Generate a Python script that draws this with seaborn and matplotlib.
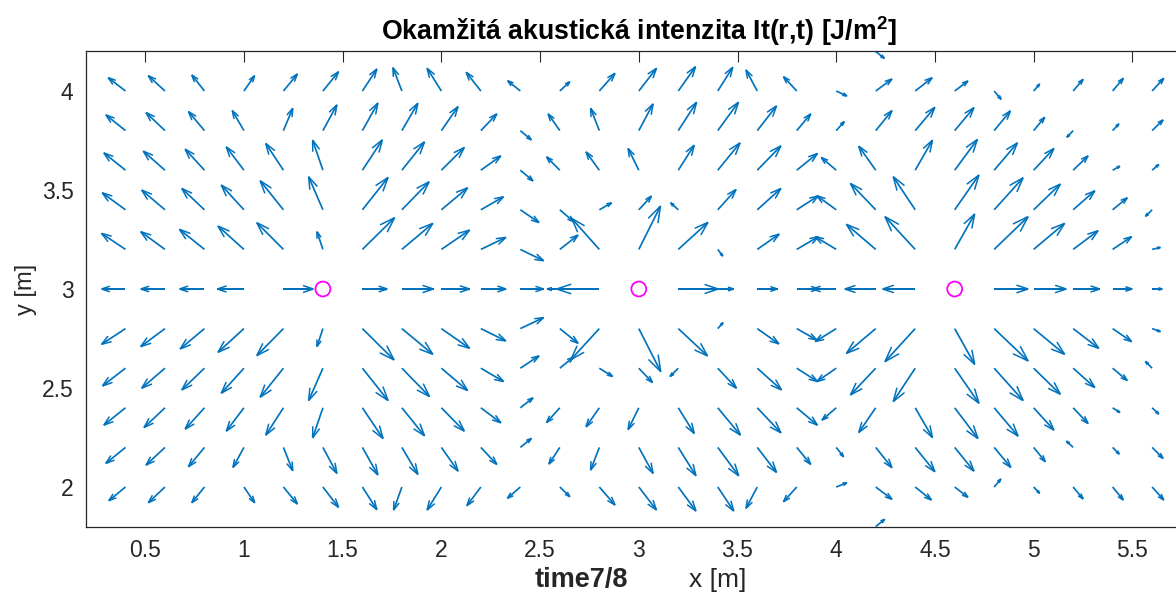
import numpy as np
import matplotlib
matplotlib.use("Agg")
import matplotlib.pyplot as plt
from matplotlib.collections import LineCollection
import seaborn as sns

# ---------------- data ----------------
# grid of arrow tails
x_pos = [0.4, 0.6, 0.8, 1.0, 1.2, 1.4, 1.6, 1.8, 2.0, 2.2, 2.4, 2.6, 2.8, 3.0,
         3.2, 3.4, 3.6, 3.8, 4.0, 4.2, 4.4, 4.6, 4.8, 5.0, 5.2, 5.4, 5.6]
y_rows = [4.0, 3.8, 3.6, 3.4, 3.2, 3.0, 2.8, 2.6, 2.4, 2.2, 2.0]

# intensity components per row (arbitrary units)
u_y40 = [-17.3, -16.7, -12.7, 10.7, 14.0, 15.7, 14.5, -9.0, -14.3, -14.7, -12.7, 10.0, 15.7, 17.7,
         17.3, 15.0, -11.3, -13.3, 10.7, 16.3, 17.0, 13.3, 7.0, 6.0, 10.0, 10.7, 11.7]
v_y40 = [13.3, 15.3, 16.0, 15.3, 17.0, 19.3, 22.0, 23.3, 22.7, 18.7, 10.3, 9.3, 17.7, 22.7,
         24.3, 23.7, 21.0, 14.3, -5.0, 12.0, 13.3, 10.0, -8.3, 7.0, 11.7, 12.7, 12.7]
u_y38 = [-19.7, -19.0, -16.0, -11.7, 9.3, 14.0, 15.5, 16.0, 16.7, 16.0, 11.0, -11.7, -8.7, 14.3,
         18.3, 20.7, 19.3, 14.0, 8.0, 16.3, 19.7, 19.3, 16.3, 11.0, -6.3, 6.3, 11.0]
v_y38 = [15.7, 18.0, 19.0, 20.0, 22.3, 25.7, 27.5, 27.3, 24.0, 16.7, -9.3, 16.7, 22.3, 26.7,
         28.3, 28.3, 24.7, 16.7, 9.0, 20.0, 23.3, 23.0, 19.7, 13.3, -6.7, 6.7, 10.7]
u_y36 = [-21.7, -21.7, -19.3, -17.7, -17.7, -10.3, 20.0, 22.7, 23.0, 20.0, 12.7, -13.3, -13.3, -10.7,
         16.0, 22.3, 23.7, 20.7, -15.0, -17.0, 17.3, 22.7, 23.3, 20.3, 15.0, 7.3, 6.7]
v_y36 = [17.3, 19.0, 21.0, 23.3, 26.7, 30.0, 30.3, 28.3, 22.7, 14.3, -10.7, 13.3, 18.3, 21.7,
         25.0, 27.3, 24.3, 16.7, 12.7, 24.0, 30.0, 30.7, 27.3, 21.7, 14.3, 4.0, 5.7]
u_y34 = [-23.3, -23.3, -22.7, -22.7, -23.3, -14.3, 25.7, 27.3, 26.3, 22.7, 18.7, 14.0, 12.3, 12.7,
         -7.7, 18.3, 23.7, 21.7, -19.3, -25.3, -22.0, 24.3, 29.0, 26.7, 21.7, 14.7, -6.7]
v_y34 = [17.0, 19.7, 21.3, 24.7, 29.0, 33.0, 32.3, 28.0, 22.0, 13.0, -12.7, -12.0, 7.0, 13.7,
         7.0, 20.3, 21.3, 14.0, 14.0, 26.3, 33.0, 34.7, 32.0, 25.7, 19.0, 12.0, -6.5]
u_y32 = [-24.0, -24.3, -25.0, -26.0, -26.7, -6.0, 32.3, 31.0, 28.3, 25.0, 23.3, 18.3, -27.7, 21.7,
         29.7, 5.0, 22.0, 21.7, -21.0, -29.3, -30.3, 20.0, 34.0, 31.0, 25.0, 19.0, 8.3]
v_y32 = [16.0, 17.7, 20.0, 23.3, 26.7, 17.7, 31.7, 26.0, 19.3, 12.0, -11.3, 14.3, 31.0, 43.3,
         27.0, -6.7, 15.3, 12.7, 12.7, 25.0, 32.7, 35.3, 32.7, 26.0, 18.7, 12.7, 2.0]
u_y30 = [-24.0, -24.3, -25.0, -26.7, 30.0, 0.0, 25.0, 31.7, 28.3, 25.3, 23.3, -12.7, -42.7, 0.0,
         40.0, 16.0, 20.3, 22.0, -24.0, -31.0, -32.7, 0.0, 34.0, 32.7, 26.7, 19.7, 10.3]
v_y30 = [0.0] * 27
u_y28 = [-24.0, -24.3, -24.3, -26.0, -26.7, -6.0, 31.7, 31.0, 28.3, 25.0, 23.3, 18.3, -28.5, 22.0,
         29.3, 5.3, 21.7, 20.0, -21.0, -29.3, -30.3, 20.0, 34.0, 31.0, 25.7, 19.0, 8.3]
v_y28 = [-15.7, -18.0, -20.3, -23.7, -27.0, -18.0, -31.3, -25.7, -19.7, -12.3, 11.0, -14.7, -31.0, -43.0,
         -27.3, 6.0, -15.3, -11.3, -13.0, -24.7, -33.0, -35.7, -32.3, -25.7, -19.7, -13.0, -3.0]
u_y26 = [-23.0, -23.3, -22.7, -22.7, -23.3, -14.3, 25.7, 27.7, 26.3, 22.7, 18.7, 13.5, 13.3, 13.7,
         -8.3, 18.7, 24.3, 20.7, -19.3, -25.3, -22.0, 24.3, 29.0, 26.7, 21.7, 14.7, -6.7]
v_y26 = [-17.7, -20.0, -21.7, -25.0, -29.0, -32.3, -32.3, -28.3, -22.3, -13.3, 12.3, 11.0, -8.3, -14.3,
         -8.3, -20.0, -21.7, -13.3, -13.3, -26.7, -33.3, -35.0, -32.3, -26.0, -19.3, -12.3, 6.7]
u_y24 = [-21.7, -21.0, -19.3, -17.7, -17.7, -10.3, 20.7, 22.7, 23.0, 20.0, 12.7, -13.3, -13.3, -10.7,
         16.0, 22.7, 23.7, 20.7, -14.3, -17.0, 17.3, 23.3, 24.0, 20.3, 15.0, 7.3, 6.7]
v_y24 = [-17.3, -19.7, -21.3, -23.3, -27.3, -30.0, -30.7, -28.0, -23.3, -15.0, 10.0, -14.7, -19.0, -21.7,
         -25.7, -27.3, -25.0, -17.3, -12.3, -24.7, -29.7, -30.7, -28.3, -22.3, -15.7, -4.7, -6.3]
u_y22 = [-19.7, -19.0, -16.0, -11.0, 9.3, 14.0, 15.5, 16.0, 16.7, 16.0, 11.0, -11.0, -8.7, 14.3,
         17.7, 21.0, 19.3, 14.0, 7.3, 16.3, 19.7, 19.3, 16.7, 11.7, -6.7, 6.7, 11.0]
v_y22 = [-16.0, -17.7, -19.3, -20.0, -23.3, -26.0, -27.5, -27.0, -23.7, -17.0, 9.0, -16.7, -22.7, -26.0,
         -28.3, -28.3, -25.0, -17.0, -9.3, -20.3, -24.3, -23.7, -20.0, -14.3, 6.3, -6.7, -11.0]
u_y20 = [-16.7, -16.7, -12.7, 10.7, 14.0, 15.7, 14.5, -8.3, -14.3, -14.0, -13.0, 10.0, 15.7, 17.7,
         17.7, 16.0, -11.3, -13.3, 10.7, 16.3, 16.3, 13.3, 6.7, 6.0, 10.0, 10.7, 11.7]
v_y20 = [-13.7, -15.7, -15.7, -15.7, -17.0, -20.3, -22.7, -23.0, -23.0, -18.7, -11.3, -9.7, -18.0, -23.0,
         -24.0, -24.0, -21.3, -14.7, 4.3, -12.3, -13.0, -10.3, 8.0, -6.3, -12.0, -13.0, -13.0]

# arrows on the border rows that remain visible
edge_x = [4.2, 4.2]
edge_y = [4.2, 1.8]
edge_u = [8.7, 9.0]
edge_v = [-7.0, 7.3]

# sources
src_x = [1.4, 3.0, 4.6]
src_y = [3.0, 3.0, 3.0]

xtick_vals = [0.5, 1, 1.5, 2, 2.5, 3, 3.5, 4, 4.5, 5, 5.5]
xtick_labels = ["0.5", "1", "1.5", "2", "2.5", "3", "3.5", "4", "4.5", "5", "5.5"]
ytick_vals = [2, 2.5, 3, 3.5, 4]
ytick_labels = ["2", "2.5", "3", "3.5", "4"]

# ---------------- style ----------------
sns.set_theme(style="white")
plt.rcParams["font.family"] = ["Liberation Sans", "DejaVu Sans"]
plt.rcParams["mathtext.fontset"] = "custom"
plt.rcParams["mathtext.rm"] = "Liberation Sans"
plt.rcParams["mathtext.bf"] = "Liberation Sans:bold"

BLUE = "#0072BD"
AX_COL = "#262626"

U = np.array([u_y40, u_y38, u_y36, u_y34, u_y32, u_y30, u_y28, u_y26, u_y24, u_y22, u_y20], float)
V = np.array([v_y40, v_y38, v_y36, v_y34, v_y32, v_y30, v_y28, v_y26, v_y24, v_y22, v_y20], float)
X, Y = np.meshgrid(np.array(x_pos), np.array(y_rows))

Xf = np.concatenate([X.ravel(), edge_x])
Yf = np.concatenate([Y.ravel(), edge_y])
Uf = np.concatenate([U.ravel(), edge_u])
Vf = np.concatenate([V.ravel(), edge_v])
keep = ~((Uf == 0) & (Vf == 0))
Xf, Yf, Uf, Vf = Xf[keep], Yf[keep], Uf[keep], Vf[keep]

W, H = 1176, 603
fig = plt.figure(figsize=(W / 100, H / 100), dpi=100)
ax = fig.add_axes([86 / W, 76.4 / H, 1105.6 / W, 475.2 / H])
ax.set_xlim(0.2, 5.8)
ax.set_ylim(1.8, 4.2)

SCALE = 197.8  # intensity units per metre of arrow length
ax.quiver(Xf, Yf, Uf, Vf, angles="xy", scale_units="xy", scale=SCALE, pivot="tail",
          color=BLUE, units="dots", width=1.7, headwidth=1, headlength=0,
          headaxislength=0, minlength=0, zorder=2)

# open "V" arrow heads in MATLAB style
ud, vd = Uf / SCALE, Vf / SCALE
tx, ty = Xf + ud, Yf + vd
alpha, beta = 0.33, 0.33
h1 = np.stack([tx - alpha * (ud + beta * vd), ty - alpha * (vd - beta * ud)], axis=-1)
h2 = np.stack([tx - alpha * (ud - beta * vd), ty - alpha * (vd + beta * ud)], axis=-1)
tip = np.stack([tx, ty], axis=-1)
heads = np.stack([h1, tip, h2], axis=1)
ax.add_collection(LineCollection(heads, colors=BLUE, linewidths=1.1, zorder=2,
                                 capstyle="round", joinstyle="miter"))

sns.scatterplot(x=src_x, y=src_y, ax=ax, marker="o", s=115, facecolors="none",
                edgecolor="#FF00FF", linewidth=1.3, zorder=3)

ax.set_xticks(xtick_vals)
ax.set_xticklabels(xtick_labels)
ax.set_yticks(ytick_vals)
ax.set_yticklabels(ytick_labels)
ax.tick_params(axis="both", direction="in", length=8, width=0.8, color=AX_COL,
               labelcolor=AX_COL, labelsize=16.5, top=True, right=True)
ax.tick_params(axis="x", pad=9)
ax.tick_params(axis="y", pad=9)
for sp in ax.spines.values():
    sp.set_visible(True)
    sp.set_color(AX_COL)
    sp.set_linewidth(0.9)

ax.set_title(r"Okamžitá akustická intenzita It(r,t) [J/m$^{\mathbf{2}}$]",
             fontsize=19.3, fontweight="bold", color="black", pad=8)
ax.set_xlabel("x [m]", fontsize=19, color=AX_COL)
ax.xaxis.set_label_coords(0.5716, -0.112)
ax.xaxis.label.set_va("center")
ax.set_ylabel("y [m]", fontsize=17, color=AX_COL)
ax.yaxis.set_label_coords(-0.0545, 0.5)
ax.yaxis.label.set_va("center")
fig.text(581 / W, 1 - 580 / H, "time7/8", fontsize=19.5, fontweight="bold",
         color=AX_COL, ha="center", va="center")

fig.savefig("out.png", dpi=100, facecolor="white")
